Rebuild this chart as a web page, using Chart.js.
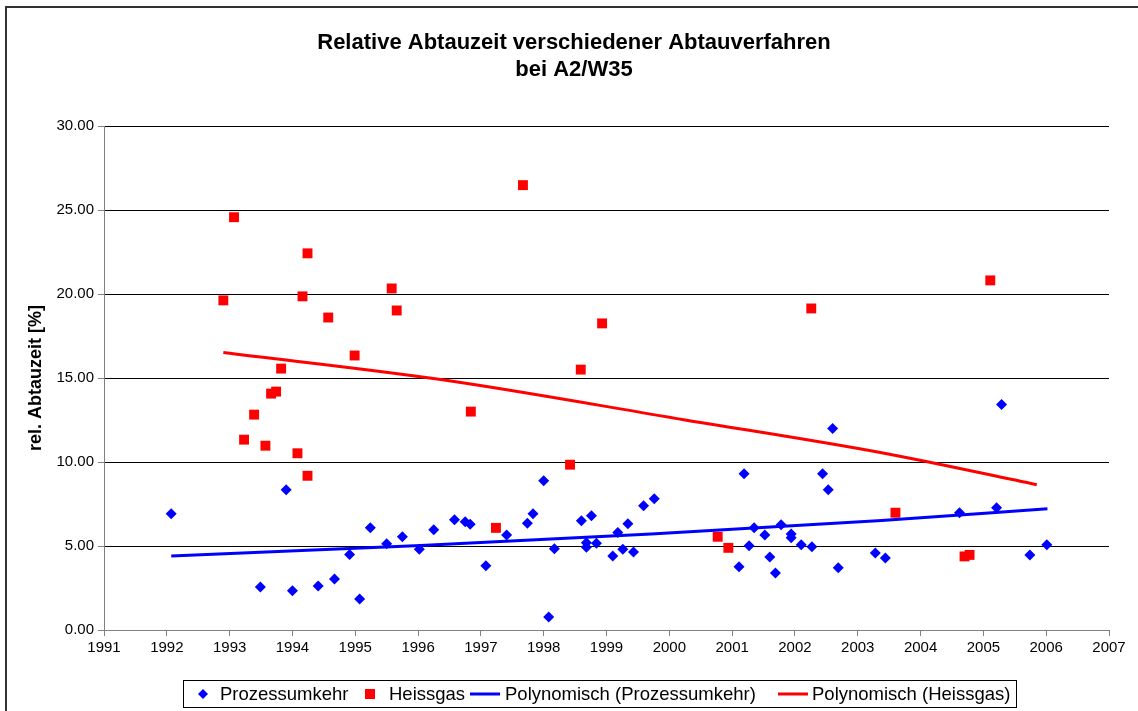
<!DOCTYPE html>
<html>
<head>
<meta charset="utf-8">
<script src="https://cdn.jsdelivr.net/npm/chart.js@4.4.1/dist/chart.umd.min.js"></script>
<style>
  html, body { margin: 0; padding: 0; background: #fff; }
  canvas { display: block; }
</style>
</head>
<body>
<canvas id="abtauChart" width="1138" height="711" style="width:1138px;height:711px"></canvas>
<script>
// Texte
const titleLines = ['Relative Abtauzeit verschiedener Abtauverfahren', 'bei A2/W35'];
const yAxisTitle = 'rel. Abtauzeit [%]';
const seriesNames = ['Prozessumkehr', 'Heissgas', 'Polynomisch (Prozessumkehr)', 'Polynomisch (Heissgas)'];

// Achsen
const xRange = [1991, 2007];
const yRange = [0, 30];
const yStep = 5;

// Prozessumkehr (Jahr, rel. Abtauzeit)
const prozessYear = [
  1992.07, 1993.49, 1993.90, 1994.00, 1994.41, 1994.67, 1994.91, 1995.07, 1995.24, 1995.50,
  1995.75, 1996.02, 1996.25, 1996.58, 1996.75, 1996.83, 1997.08, 1997.41, 1997.74, 1997.83,
  1998.00, 1998.08, 1998.17, 1998.60, 1998.68, 1998.68, 1998.76, 1998.84, 1999.10, 1999.18,
  1999.26, 1999.34, 1999.43, 1999.59, 1999.76, 2001.11, 2001.19, 2001.27, 2001.35, 2001.52,
  2001.60, 2001.69, 2001.78, 2001.94, 2001.94, 2002.10, 2002.27, 2002.44, 2002.53, 2002.60,
  2002.69, 2003.28, 2003.44, 2004.62, 2005.21, 2005.29, 2005.74, 2006.01
];
const prozessValue = [
  6.92, 2.56, 8.35, 2.33, 2.62, 3.04, 4.50, 1.85, 6.08, 5.13,
  5.55, 4.80, 5.96, 6.56, 6.44, 6.30, 3.82, 5.66, 6.35, 6.92,
  8.88, 0.78, 4.83, 6.50, 5.19, 4.92, 6.80, 5.16, 4.41, 5.80,
  4.80, 6.32, 4.65, 7.39, 7.81, 3.76, 9.30, 5.01, 6.08, 5.66,
  4.35, 3.40, 6.26, 5.72, 5.49, 5.07, 4.95, 9.30, 8.35, 11.99,
  3.70, 4.59, 4.29, 6.98, 7.27, 13.42, 4.47, 5.07
];

// Heissgas (Jahr, rel. Abtauzeit)
const heissYear = [
  1992.90, 1993.07, 1993.23, 1993.39, 1993.57, 1993.66, 1993.74, 1993.82, 1994.08, 1994.16,
  1994.24, 1994.24, 1994.57, 1994.99, 1995.58, 1995.66, 1996.84, 1997.24, 1997.67, 1998.42,
  1998.59, 1998.93, 2000.77, 2000.94, 2002.26, 2003.60, 2004.70, 2004.78, 2005.11
];
const heissValue = [
  19.62, 24.57, 11.33, 12.82, 10.97, 14.07, 14.19, 15.56, 10.52, 19.86,
  22.42, 9.18, 18.60, 16.34, 20.33, 19.02, 13.00, 6.08, 26.48, 9.84,
  15.50, 18.25, 5.55, 4.89, 19.14, 6.98, 4.38, 4.47, 20.81
];

// Trendlinien
const trendProzessYear = [1992.07, 1996.04, 1999.71, 2003.38, 2006.02];
const trendProzessValue = [4.41, 5.03, 5.72, 6.52, 7.22];
const trendHeissYear = [1992.90, 1996.36, 2000.23, 2003.38, 2005.85];
const trendHeissValue = [16.52, 14.91, 12.52, 10.55, 8.65];

const BLUE = '#0000ff';
const RED = '#ff0000';
const FONT = "'Liberation Sans', Arial, sans-serif";

const toPoints = (xs, ys) => xs.map((x, i) => ({ x: x, y: ys[i] }));

// Rahmen, Titel und Legende
const decorPlugin = {
  id: 'decor',
  afterDraw(chart) {
    const ctx = chart.ctx;
    ctx.save();

    // Rahmen
    ctx.strokeStyle = '#333';
    ctx.lineWidth = 2;
    ctx.strokeRect(6, 7, 1160, 740);

    // Titel
    ctx.fillStyle = '#000';
    ctx.textAlign = 'center';
    ctx.textBaseline = 'middle';
    ctx.font = 'bold 22px ' + FONT;
    ctx.fillText(titleLines[0], 574, 43);
    ctx.fillText(titleLines[1], 574, 70);

    // Legende: Symbol-Start und Text-Start je Eintrag
    const items = [
      { kind: 'diamond', color: BLUE, label: seriesNames[0], mx: 198, tx: 220 },
      { kind: 'square', color: RED, label: seriesNames[1], mx: 365, tx: 389 },
      { kind: 'line', color: BLUE, label: seriesNames[2], mx: 470, tx: 505 },
      { kind: 'line', color: RED, label: seriesNames[3], mx: 778, tx: 812 }
    ];
    ctx.font = '18.5px ' + FONT;
    ctx.textAlign = 'left';
    const cy = 694;
    items.forEach(it => {
      const x = it.mx;
      ctx.fillStyle = it.color;
      ctx.strokeStyle = it.color;
      if (it.kind === 'diamond') {
        ctx.beginPath();
        ctx.moveTo(x, cy); ctx.lineTo(x + 5, cy - 5); ctx.lineTo(x + 10, cy); ctx.lineTo(x + 5, cy + 5);
        ctx.closePath(); ctx.fill();
      } else if (it.kind === 'square') {
        ctx.fillRect(x, cy - 5, 10, 10);
      } else {
        ctx.lineWidth = 3;
        ctx.beginPath(); ctx.moveTo(x, cy); ctx.lineTo(x + 30, cy); ctx.stroke();
      }
      ctx.fillStyle = '#000';
      ctx.fillText(it.label, it.tx, cy + 1);
    });
    ctx.strokeStyle = '#000';
    ctx.lineWidth = 1;
    ctx.strokeRect(183.5, 680.5, 833, 27);

    ctx.restore();
  }
};

new Chart(document.getElementById('abtauChart'), {
  type: 'scatter',
  data: {
    datasets: [
      {
        label: seriesNames[0],
        data: toPoints(prozessYear, prozessValue),
        pointStyle: 'rectRot',
        pointRadius: 5.5,
        backgroundColor: BLUE,
        borderColor: BLUE,
        borderWidth: 0,
        order: 2
      },
      {
        label: seriesNames[1],
        data: toPoints(heissYear, heissValue),
        pointStyle: 'rect',
        pointRadius: 7,
        backgroundColor: RED,
        borderColor: RED,
        borderWidth: 0,
        order: 2
      },
      {
        label: seriesNames[2],
        data: toPoints(trendProzessYear, trendProzessValue),
        showLine: true,
        pointRadius: 0,
        borderColor: BLUE,
        borderWidth: 3,
        cubicInterpolationMode: 'monotone',
        order: 1
      },
      {
        label: seriesNames[3],
        data: toPoints(trendHeissYear, trendHeissValue),
        showLine: true,
        pointRadius: 0,
        borderColor: RED,
        borderWidth: 3,
        cubicInterpolationMode: 'monotone',
        order: 1
      }
    ]
  },
  options: {
    responsive: false,
    animation: false,
    devicePixelRatio: 1,
    layout: { padding: { left: 4, right: 29, top: 126, bottom: 51 } },
    plugins: {
      legend: { display: false },
      title: { display: false },
      tooltip: { enabled: false }
    },
    scales: {
      x: {
        type: 'linear',
        min: xRange[0],
        max: xRange[1],
        afterFit: s => { s.height = 30; },
        border: { color: '#808080', width: 1 },
        grid: { drawOnChartArea: false, tickLength: 6, color: '#808080' },
        ticks: {
          stepSize: 1,
          padding: 3,
          color: '#000',
          font: { family: FONT, size: 15 },
          callback: v => String(v)
        }
      },
      y: {
        min: yRange[0],
        max: yRange[1],
        afterFit: s => { s.width = 100; },
        border: { color: '#808080', width: 1 },
        grid: { color: '#000', tickLength: 6, tickColor: '#808080' },
        ticks: {
          stepSize: yStep,
          padding: 4,
          color: '#000',
          font: { family: FONT, size: 15 },
          callback: v => v.toFixed(2)
        },
        title: {
          display: true,
          text: yAxisTitle,
          color: '#000',
          font: { family: FONT, size: 18, weight: 'bold' },
          padding: { top: 21, bottom: 0 }
        }
      }
    }
  },
  plugins: [decorPlugin]
});
</script>
</body>
</html>
